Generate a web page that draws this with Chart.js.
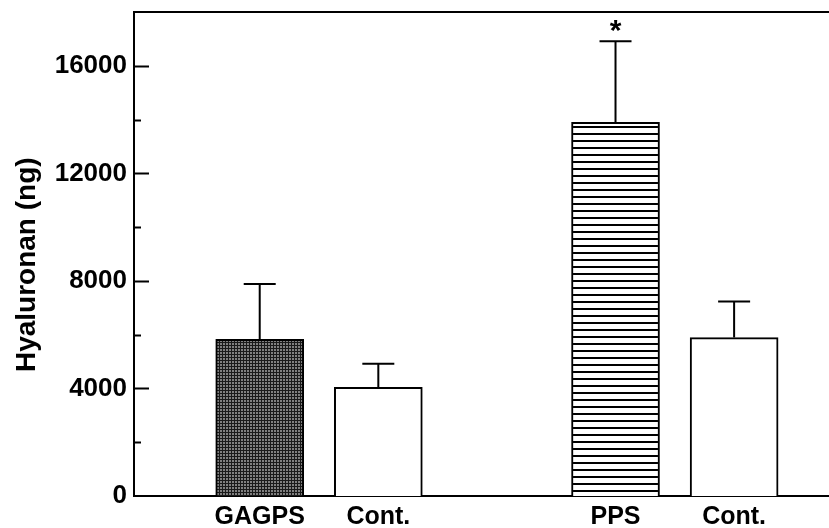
<!DOCTYPE html>
<html>
<head>
<meta charset="utf-8">
<script src="https://cdn.jsdelivr.net/npm/chart.js@4"></script>
<style>
  html, body { margin: 0; padding: 0; background: #fff; }
  #wrap { width: 829px; height: 528px; }
</style>
</head>
<body>
<div id="wrap"><canvas id="hyChart" width="829" height="528"></canvas></div>
<script>
// data
const categories = ['GAGPS', 'Cont.', 'PPS', 'Cont.'];
const slots = [0, 1, 3, 4];           // category slot (gap between the two groups)
const means = [5830, 4040, 13900, 5890];
const sems = [2050, 880, 3010, 1340];
const marks = ['', '', '*', ''];
const yTicks = [0, 4000, 8000, 12000, 16000];
const yTitle = 'Hyaluronan (ng)';

const FONT = "'Liberation Sans', Arial, Helvetica, sans-serif";

// fill textures
function makePattern(w, h, draw) {
    const c = document.createElement('canvas');
    c.width = w; c.height = h;
    draw(c.getContext('2d'));
    return c.getContext('2d').createPattern(c, 'repeat');
}
const ctx = document.getElementById('hyChart').getContext('2d');
const darkHatch = makePattern(3, 3, (g) => {
    g.fillStyle = '#808080'; g.fillRect(0, 0, 3, 3);
    g.fillStyle = '#1a1a1a'; g.fillRect(0, 0, 3, 1); g.fillRect(0, 0, 1, 3);
});
const stripes = makePattern(8, 7, (g) => {
    g.fillStyle = '#fff'; g.fillRect(0, 0, 8, 7);
    g.fillStyle = '#000'; g.fillRect(0, 0, 8, 2);
});
const fills = [darkHatch, '#ffffff', stripes, '#ffffff'];

// error bars, asterisk, inside tick marks, top frame line, axis title
const extras = {
    id: 'extras',
    afterDatasetsDraw(chart) {
        const x = chart.scales.x, y = chart.scales.y, c = chart.ctx;
        c.save();
        c.strokeStyle = '#000';
        c.lineWidth = 2;
        for (let i = 0; i < means.length; i++) {
            const px = x.getPixelForValue(slots[i]);
            const y0 = y.getPixelForValue(means[i]);
            const y1 = y.getPixelForValue(means[i] + sems[i]);
            c.beginPath();
            c.moveTo(px, y0); c.lineTo(px, y1);
            c.moveTo(px - 16, y1); c.lineTo(px + 16, y1);
            c.stroke();
            if (marks[i]) {
                c.fillStyle = '#000';
                c.font = 'bold 30px ' + FONT;
                c.textAlign = 'center';
                c.textBaseline = 'middle';
                c.fillText(marks[i], px, y1 - 10);
            }
        }
        c.restore();
    },
    afterDraw(chart) {
        const y = chart.scales.y, c = chart.ctx, a = chart.chartArea;
        c.save();
        c.strokeStyle = '#000';
        c.lineWidth = 2;
        y.ticks.forEach((t) => {
            if (t.value <= 0 || t.value >= y.max) return;
            const py = Math.round(y.getPixelForValue(t.value)) + 0.5;
            const len = yTicks.includes(t.value) ? 15 : 7;
            c.beginPath();
            c.moveTo(a.left, py); c.lineTo(a.left + len, py);
            c.stroke();
        });
        c.beginPath();
        c.moveTo(a.left - 1, a.top); c.lineTo(a.right, a.top);
        c.stroke();

        // title sits a little below the axis middle in the original
        c.translate(27, y.getPixelForValue(8600));
        c.rotate(-Math.PI / 2);
        c.fillStyle = '#000';
        c.font = 'bold 28px ' + FONT;
        c.textAlign = 'center';
        c.textBaseline = 'middle';
        c.fillText(yTitle, 0, 0);
        c.restore();
    }
};

new Chart(ctx, {
    type: 'bar',
    data: {
        datasets: [{
            data: means.map((v, i) => ({ x: slots[i], y: v })),
            backgroundColor: fills,
            borderColor: '#000',
            borderWidth: 2,
            barThickness: 88
        }]
    },
    options: {
        responsive: false,
        animation: false,
        layout: { padding: { top: 12, right: 0, left: 0, bottom: 0 } },
        plugins: { legend: { display: false }, tooltip: { enabled: false } },
        scales: {
            x: {
                type: 'linear',
                offset: false,
                min: -1.06,
                max: 4.8,
                grid: { display: false, drawTicks: false, offset: false },
                border: { display: true, color: '#000', width: 2 },
                afterBuildTicks: (s) => { s.ticks = slots.map((v) => ({ value: v })); },
                afterFit: (s) => { s.height = 32; },
                ticks: {
                    autoSkip: false,
                    maxRotation: 0,
                    padding: 6,
                    color: '#000',
                    font: { family: FONT, size: 25, weight: 'bold' },
                    callback: (v) => categories[slots.indexOf(v)] || ''
                }
            },
            y: {
                min: 0,
                max: 18000,
                grid: { display: false, drawTicks: false },
                border: { display: true, color: '#000', width: 2 },
                afterBuildTicks: (s) => { s.ticks = s.ticks.filter((t) => t.value < s.max); },
                afterFit: (s) => { s.width = 134; s.paddingTop = 0; },
                ticks: {
                    stepSize: 2000,
                    padding: 7,
                    color: '#000',
                    font: { family: FONT, size: 26, weight: 'bold' },
                    callback: (v) => yTicks.includes(v) ? String(v) : ''
                }
            }
        }
    },
    plugins: [extras]
});
</script>
</body>
</html>
